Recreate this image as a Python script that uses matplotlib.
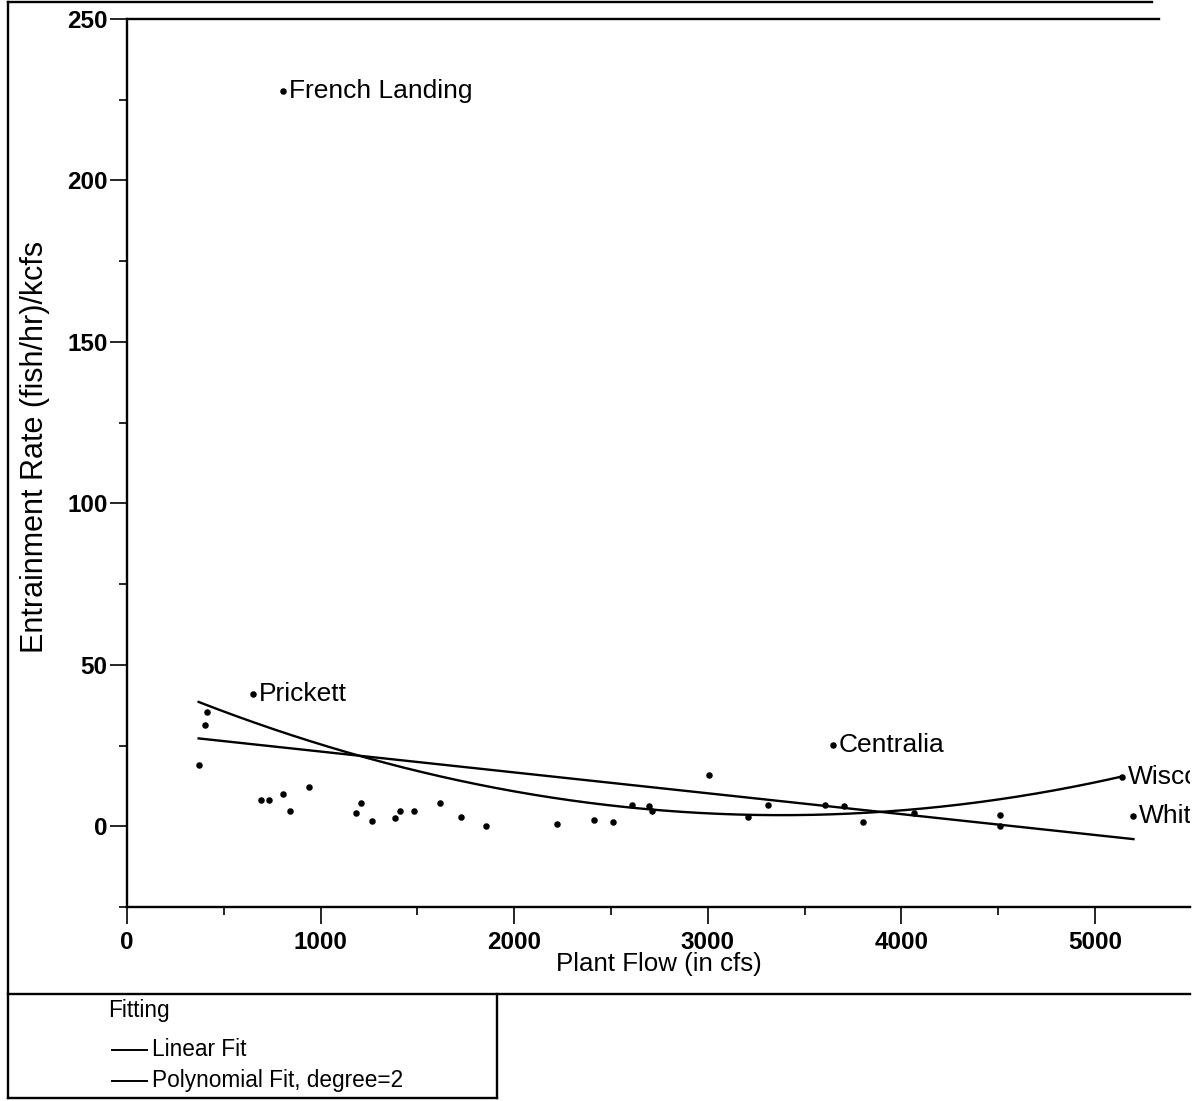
import numpy as np
import matplotlib
matplotlib.use("Agg")
import matplotlib.pyplot as plt
from matplotlib.lines import Line2D

plt.rcParams['font.family'] = ['Liberation Sans', 'DejaVu Sans']

# ------------------------------------------------------------
# data
# ------------------------------------------------------------
plant_flow = [370, 401, 412, 652, 690, 733, 807, 808, 842, 938,
              1185, 1207, 1264, 1386, 1408, 1481, 1615, 1724, 1853,
              2219, 2410, 2508, 2606, 2696, 2710, 3008, 3208, 3309,
              3605, 3648, 3704, 3803, 4062, 4509, 4509, 5138, 5198]
entrain_rate = [18.9, 31.3, 35.3, 41.0, 8.1, 8.1, 227.8, 10.0, 4.8, 12.1,
                4.0, 7.3, 1.5, 2.7, 4.7, 4.8, 7.3, 2.8, 0.0,
                0.8, 1.9, 1.3, 6.6, 6.2, 4.8, 15.9, 3.0, 6.6,
                6.6, 25.2, 6.2, 1.3, 4.1, 3.5, 0.1, 15.4, 3.2]

site_names = ["French Landing", "Prickett", "Centralia", "Wisconsin", "White"]
site_flow = [807, 652, 3648, 5138, 5198]
site_rate = [227.8, 41.0, 25.2, 15.4, 3.2]

# fitted curves (coefficients, x in kcfs)
linear_coef = [-6.46, 29.6]          # slope, intercept
poly_coef = [3.87, -26.16, 47.65]    # x^2, x, const
linear_range = [370, 5198]
poly_range = [370, 5145]

x_ticks = [0, 1000, 2000, 3000, 4000, 5000]
y_ticks = [0, 50, 100, 150, 200, 250]

W, H = 1201, 1101


def fx(x):
    return x / W


def fy(y):
    return 1 - y / H


fig = plt.figure(figsize=(W / 100, H / 100), dpi=100)
ax = fig.add_axes([fx(127), fy(907), fx(1190) - fx(127), fy(19) - fy(907)])

ax.scatter(plant_flow, entrain_rate, s=22, marker='o', color='black',
           linewidths=0, zorder=3)

xl = np.linspace(linear_range[0], linear_range[1], 50)
ax.plot(xl, np.polyval(linear_coef, xl / 1000), color='black', lw=1.7,
        label='Linear Fit')
xp = np.linspace(poly_range[0], poly_range[1], 200)
ax.plot(xp, np.polyval(poly_coef, xp / 1000), color='black', lw=1.7,
        label='Polynomial Fit, degree=2')

for name, sx, sy in zip(site_names, site_flow, site_rate):
    ax.annotate(name, (sx, sy), xytext=(4, 0), textcoords='offset points',
                ha='left', va='center', fontsize=19, clip_on=True,
                annotation_clip=True)

ax.set_xlim(0, 5490)
ax.set_ylim(-25, 250)
ax.set_xticks(x_ticks)
ax.set_yticks(y_ticks)
ax.set_xticks([500, 1500, 2500, 3500, 4500], minor=True)
ax.set_yticks([-25, 25, 75, 125, 175, 225], minor=True)
ax.tick_params(axis='both', which='major', length=12, width=1.2,
               labelsize=17.5)
ax.tick_params(axis='x', which='major', pad=5)
ax.tick_params(axis='y', which='major', pad=2)
ax.tick_params(axis='both', which='minor', length=6, width=1.2)
for lab in ax.get_xticklabels() + ax.get_yticklabels():
    lab.set_fontweight('bold')

ax.spines['right'].set_visible(False)
ax.spines['top'].set_visible(False)
for s in ['left', 'bottom']:
    ax.spines[s].set_linewidth(1.7)

ax.set_xlabel('Plant Flow (in cfs)', fontsize=18.6, labelpad=-1)
ax.set_ylabel('Entrainment Rate (fish/hr)/kcfs', fontsize=22)
ax.yaxis.set_label_coords(-0.072, 0.518)

# outer frame and legend box of the report page
frame = [
    ([8, 8], [2, 1098]),
    ([8, 1152], [2, 2]),
    ([127, 1159], [19, 19]),
    ([8, 1190], [994, 994]),
    ([8, 497], [1098, 1098]),
    ([497, 497], [994, 1098]),
]
for xs, ys in frame:
    fig.add_artist(Line2D([fx(v) for v in xs], [fy(v) for v in ys],
                          color='black', lw=1.7))

fig.text(fx(108), fy(1011), 'Fitting', fontsize=16.3, va='center', ha='left')
for i, line in enumerate(ax.get_lines()):
    yy = 1050 + i * 31
    fig.add_artist(Line2D([fx(112), fx(147)], [fy(yy), fy(yy)],
                          color='black', lw=1.4))
    fig.text(fx(152), fy(yy), line.get_label(), fontsize=16.3,
             va='center', ha='left')

fig.savefig('out.png', dpi=100)
